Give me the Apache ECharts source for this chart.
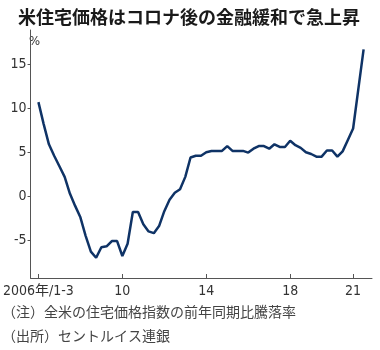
<!DOCTYPE html>
<html>
<head>
<meta charset="utf-8">
<script src="https://cdn.jsdelivr.net/npm/echarts@6/dist/echarts.min.js"></script>
<style>html,body{margin:0;padding:0;background:#fff;}#c{width:380px;height:350px;}</style>
</head>
<body>
<div id="c"></div>
<script>
// Quarterly, 2006Q1 .. 2021Q3
const quarters = [];
for (let y = 2006; y <= 2021; y++) { for (let q = 1; q <= 4; q++) { quarters.push(y + 'Q' + q); } }
quarters.length = 63;
const yoyChange = [
  10.7, 8.2, 5.9, 4.6, 3.4, 2.2, 0.3, -1.1,
  -2.4, -4.5, -6.3, -7.0, -5.8, -5.7, -5.1, -5.1,
  -6.8, -5.4, -1.8, -1.8, -3.2, -4.0, -4.2, -3.4,
  -1.7, -0.4, 0.4, 0.8, 2.2, 4.4, 4.6, 4.6,
  5.0, 5.15, 5.15, 5.15, 5.7, 5.15, 5.15, 5.15,
  4.96, 5.4, 5.7, 5.7, 5.4, 5.9, 5.6, 5.6,
  6.3, 5.8, 5.5, 5.0, 4.8, 4.5, 4.5, 5.2,
  5.2, 4.5, 5.1, 6.4, 7.7, 12.2, 16.7
];
const xTickIndex = [0, 16, 32, 48, 60];
const xTickLabels = ['2006年/1-3', '10', '14', '18', '21'];
const yTicks = [-5, 0, 5, 10, 15];
const titleText = '米住宅価格はコロナ後の金融緩和で急上昇';
const note1 = '（注）全米の住宅価格指数の前年同期比騰落率';
const note2 = '（出所）セントルイス連銀';

const numFont = '"Liberation Sans Narrow", "DejaVu Sans Condensed", "Noto Sans CJK JP", sans-serif';
const jpFont = '"Noto Sans CJK JP", sans-serif';

const chart = echarts.init(document.getElementById('c'), null, { renderer: 'canvas' });
const seriesData = yoyChange.map((v, i) => [i, v]);

chart.setOption({
  animation: false,
  backgroundColor: '#fff',
  title: {
    text: titleText,
    left: 13, top: 3,
    textStyle: { fontFamily: jpFont, fontWeight: 'bold', fontSize: 18, color: '#1a1a1a' }
  },
  grid: { left: 26, right: 8, top: 30, bottom: 72, containLabel: false },
  xAxis: {
    type: 'value', min: -1.5, max: 63.6,
    axisLine: { show: true, onZero: false, lineStyle: { color: '#555', width: 1 } },
    axisTick: { show: true, inside: true, length: 4, customValues: xTickIndex, lineStyle: { color: '#555' } },
    axisLabel: {
      customValues: xTickIndex, margin: 6, hideOverlap: false,
      formatter: v => xTickLabels[xTickIndex.indexOf(Math.round(v))] || '',
      fontFamily: numFont, fontSize: 14, color: '#333'
    },
    splitLine: { show: false }
  },
  yAxis: {
    type: 'value', min: -9.3, max: 18.9,
    axisLine: { show: true, onZero: false, lineStyle: { color: '#555', width: 1 } },
    axisTick: { show: true, length: 3, customValues: yTicks, lineStyle: { color: '#555' } },
    axisLabel: { customValues: yTicks, margin: 4, fontFamily: numFont, fontSize: 14, color: '#333' },
    splitLine: { show: false }
  },
  graphic: [
    { type: 'text', left: 29, top: 35, style: { text: '%', font: '13px ' + numFont, fill: '#333' } },
    { type: 'text', left: 2, top: 305, style: { text: note1, font: '14px ' + jpFont, fill: '#444' } },
    { type: 'text', left: 2, top: 329, style: { text: note2, font: '14px ' + jpFont, fill: '#444' } }
  ],
  series: [{
    type: 'line', data: seriesData, symbol: 'none', smooth: false,
    lineStyle: { color: '#0f3366', width: 2.5 }
  }]
});
</script>
</body>
</html>
